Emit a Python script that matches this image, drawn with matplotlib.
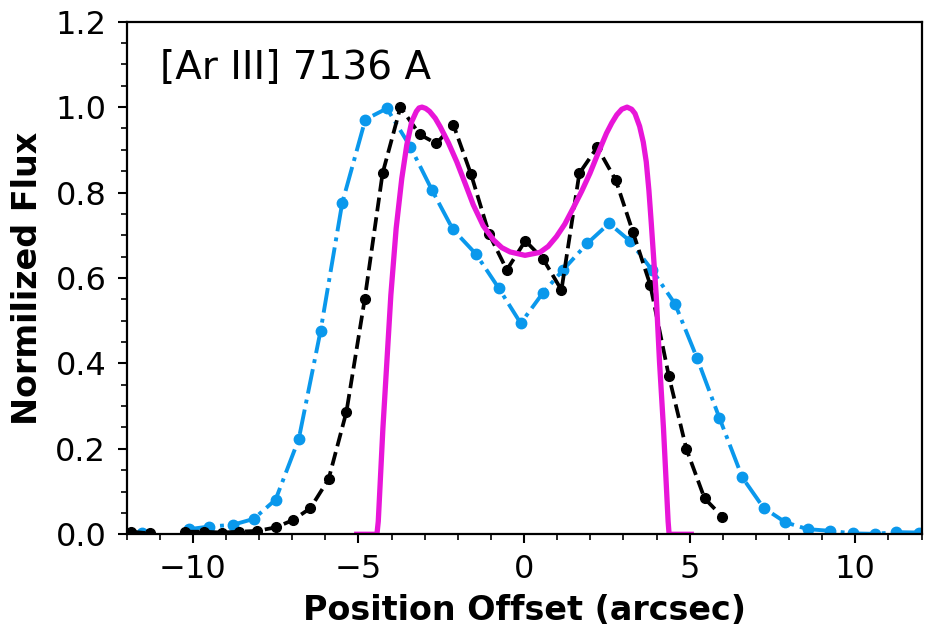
import numpy as np
import matplotlib.pyplot as plt
from matplotlib.ticker import MultipleLocator

# -------------------------
# Data
# -------------------------
# black dashed profile (nan = gap in the data)
black_x = [-11.85, -11.29, -10.75, -10.22, -9.66, -9.11, -8.61, -8.05, -7.50,
           -6.98, -6.45, -5.90, -5.36, -4.81, -4.27, -3.73, -3.15, -2.65,
           -2.13, -1.60, -1.05, -0.52, 0.04, 0.58, 1.13, 1.67, 2.21, 2.77,
           3.29, 3.81, 4.37, 4.90, 5.45, 5.99]
black_y = [0.006, 0.002, np.nan, 0.006, 0.006, 0.004, 0.006, 0.008, 0.016,
           0.033, 0.061, 0.129, 0.287, 0.550, 0.845, 1.000, 0.936, 0.915,
           0.958, 0.843, 0.702, 0.619, 0.687, 0.644, 0.572, 0.845, 0.906,
           0.829, 0.707, 0.584, 0.371, 0.200, 0.084, 0.041]

# blue dash-dot profile
blue_x = [-11.52, -10.85, -10.11, -9.51, -8.80, -8.16, -7.50, -6.80, -6.14,
          -5.49, -4.79, -4.14, -3.43, -2.78, -2.15, -1.45, -0.77, -0.10,
          0.56, 1.18, 1.91, 2.57, 3.19, 3.86, 4.56, 5.22, 5.90, 6.59, 7.23,
          7.89, 8.56, 9.25, 9.92, 10.59, 11.24, 11.93]
blue_y = [0.004, np.nan, 0.012, 0.018, 0.022, 0.036, 0.081, 0.223, 0.477,
          0.775, 0.971, 0.997, 0.907, 0.806, 0.714, 0.656, 0.577, 0.494,
          0.564, 0.619, 0.681, 0.728, 0.687, 0.619, 0.539, 0.413, 0.272,
          0.133, 0.062, 0.028, 0.012, 0.008, 0.002, 0.001, 0.005, 0.004]

# magenta model curve
model_x = [-5.05, -4.44, -4.40, -4.36, -4.26, -4.14, -4.02, -3.86, -3.69,
           -3.54, -3.39, -3.25, -3.17, -3.08, -2.97, -2.85, -2.68, -2.53,
           -2.28, -2.03, -1.78, -1.53, -1.23, -0.92, -0.67, -0.42, 0.03,
           0.48, 0.73, 0.98, 1.23, 1.48, 1.74, 1.99, 2.24, 2.49, 2.65, 2.80,
           2.95, 3.11, 3.25, 3.35, 3.49, 3.60, 3.69, 3.77, 3.84, 3.99, 4.09,
           4.21, 4.31, 4.35, 4.38, 5.05]
model_y = [0.0, 0.0, 0.030, 0.092, 0.248, 0.404, 0.560, 0.716, 0.833,
           0.911, 0.966, 0.990, 0.998, 1.000, 0.997, 0.990, 0.974, 0.954,
           0.916, 0.872, 0.822, 0.771, 0.722, 0.689, 0.671, 0.661, 0.653,
           0.660, 0.674, 0.697, 0.726, 0.763, 0.803, 0.845, 0.893, 0.939,
           0.963, 0.982, 0.995, 1.000, 0.995, 0.985, 0.955, 0.918, 0.872,
           0.805, 0.730, 0.560, 0.404, 0.248, 0.092, 0.030, 0.0, 0.0]

label_text = "[Ar III] 7136 A"

# -------------------------
# Plot
# -------------------------
fig = plt.figure(figsize=(9.35, 6.42), dpi=100)
ax = fig.add_axes([0.1353, 0.1678, 0.8503, 0.7984])

ax.plot(blue_x, blue_y, "-.", color="#0A98EC", lw=2.8, marker="o", ms=7.5)
ax.plot(black_x, black_y, "--", color="black", lw=2.7, marker="o", ms=7)
ax.plot(model_x, model_y, "-", color="#E816D8", lw=3.8)

ax.set_xlim(-12, 12)
ax.set_ylim(0, 1.2)
ax.xaxis.set_major_locator(MultipleLocator(5))
ax.xaxis.set_minor_locator(MultipleLocator(1))
ax.yaxis.set_major_locator(MultipleLocator(0.2))
ax.yaxis.set_minor_locator(MultipleLocator(0.05))
ax.tick_params(which="major", length=6.5, width=1.5, labelsize=23, pad=8)
ax.tick_params(which="minor", length=4, width=1.2)
for sp in ax.spines.values():
    sp.set_linewidth(1.6)

ax.set_xlabel("Position Offset (arcsec)", fontsize=24, fontweight="bold",
              labelpad=6)
ax.set_ylabel("Normilized Flux", fontsize=24, fontweight="bold", labelpad=8)
ax.text(0.042, 0.91, label_text, transform=ax.transAxes, fontsize=28,
        va="center", ha="left")

fig.savefig("out.png", dpi=100)
